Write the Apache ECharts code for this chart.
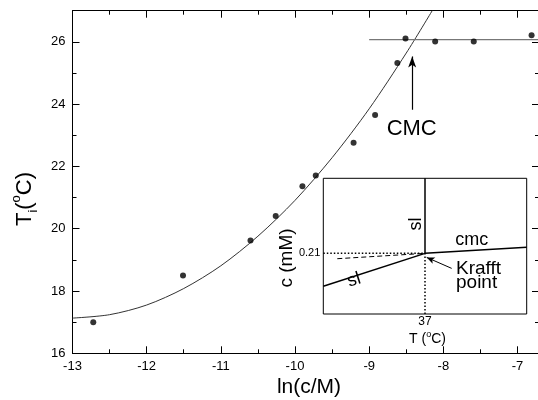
<!DOCTYPE html>
<html><head><meta charset="utf-8">
<script src="https://cdn.jsdelivr.net/npm/echarts@6/dist/echarts.min.js"></script>
<style>html,body{margin:0;padding:0;background:#fff}#c{width:538px;height:400px}</style>
</head><body><div id="c"></div>
<script>
// ---- main panel data ----
const lnC = [-12.72, -11.51, -10.60, -10.26, -9.90, -9.72, -9.21, -8.92, -8.62, -8.51, -8.11, -7.59, -6.81];
const Ti  = [17.00, 18.50, 19.62, 20.41, 21.36, 21.71, 22.76, 23.65, 25.32, 26.11, 26.01, 26.01, 26.21];
const fitX = [-13, -12.5, -12, -11.5, -11, -10.5, -10, -9.5, -9, -8.5, -8.15];
const fitY = [17.13, 17.24, 17.55, 18.08, 18.81, 19.76, 20.91, 22.28, 23.85, 25.64, 27.0];
const cmcLineX = [-9.0, -6.71];
const cmcLineY = [26.07, 26.07];
const cmcArrow = [[-8.42, 23.82], [-8.42, 25.53]];
const xTicks = [-13, -12, -11, -10, -9, -8, -7];
const xMinor = [-12.5, -11.5, -10.5, -9.5, -8.5, -7.5];
const yTicks = [16, 18, 20, 22, 24, 26];
const yMinor = [17, 19, 21, 23, 25];
// ---- inset data ----
const insetSlLow  = [[12, 0.096], [37, 0.21]];
const insetSlHigh = [[37, 0.21], [37, 0.47]];
const insetCmc    = [[37, 0.21], [62, 0.231]];
const insetDashed = [[15.44, 0.1915], [37, 0.21]];
const insetDotH   = [[12, 0.21], [37, 0.21]];
const insetDotV   = [[37, 0], [37, 0.21]];
const krafftArrow = [[43.56, 0.158], [37.42, 0.196]];
const insetXTicks = [37];
const insetYTicks = [0.21];

const FF = '"Liberation Sans", Arial, Helvetica, sans-serif';
const chart = echarts.init(document.getElementById('c'), null, {renderer: 'canvas'});

function mainX(pos, ticks, len, withLine, withLabel) {
  return {
    type: 'value', gridIndex: 0, position: pos, min: -13, max: -6.71,
    axisLine: {show: withLine, onZero: false, lineStyle: {color: '#000', width: 1}},
    axisTick: {show: true, inside: true, length: len, customValues: ticks, lineStyle: {color: '#000', width: 1}},
    axisLabel: withLabel ? {show: true, customValues: ticks, color: '#000', fontSize: 13, fontFamily: FF, margin: 7} : {show: false},
    splitLine: {show: false}
  };
}
function mainY(pos, ticks, len, withLine, withLabel) {
  return {
    type: 'value', gridIndex: 0, position: pos, min: 16, max: 27,
    axisLine: {show: withLine, onZero: false, lineStyle: {color: '#000', width: 1}},
    axisTick: {show: true, inside: true, length: len, customValues: ticks, lineStyle: {color: '#000', width: 1}},
    axisLabel: withLabel ? {show: true, customValues: ticks, color: '#000', fontSize: 13, fontFamily: FF, margin: 7} : {show: false},
    splitLine: {show: false}
  };
}

const lineStyleInset = {color: '#000', width: 1.5};

const option = {
  animation: false,
  backgroundColor: '#fff',
  grid: [
    {left: 72.5, top: 10.7, width: 466.5, height: 342.6, containLabel: false, outerBoundsMode: 'none'},
    {left: 323.3, top: 178.3, width: 203.4, height: 135.7, containLabel: false, outerBoundsMode: 'none',
     show: true, backgroundColor: '#fff', borderColor: '#000', borderWidth: 1, z: 5}
  ],
  xAxis: [
    mainX('bottom', xTicks, 7, true, true),
    mainX('bottom', xMinor, 4, false, false),
    mainX('top', xTicks, 7, true, false),
    mainX('top', xMinor, 4, false, false),
    {type: 'value', gridIndex: 1, min: 12, max: 62, position: 'bottom', z: 6,
     axisLine: {show: false, onZero: false}, axisTick: {show: false}, splitLine: {show: false},
     axisLabel: {show: true, customValues: insetXTicks, color: '#000', fontSize: 12, fontFamily: FF, margin: 2}}
  ],
  yAxis: [
    mainY('left', yTicks, 7, true, true),
    mainY('left', yMinor, 4, false, false),
    mainY('right', yTicks, 7, true, false),
    mainY('right', yMinor, 4, false, false),
    {type: 'value', gridIndex: 1, min: 0, max: 0.47, position: 'left', z: 6,
     axisLine: {show: false, onZero: false}, axisTick: {show: false}, splitLine: {show: false},
     axisLabel: {show: true, customValues: insetYTicks, color: '#000', fontSize: 11, fontFamily: FF, margin: 3,
       formatter: v => v.toFixed(2)}}
  ],
  series: [
    {type: 'line', xAxisIndex: 0, yAxisIndex: 0, data: fitX.map((x, i) => [x, fitY[i]]),
     smooth: 0.3, symbol: 'none', lineStyle: {color: '#333', width: 1}, silent: true, z: 2},
    {type: 'line', xAxisIndex: 0, yAxisIndex: 0, data: cmcLineX.map((x, i) => [x, cmcLineY[i]]),
     symbol: 'none', lineStyle: {color: '#777', width: 1.2}, silent: true, z: 2,
     markLine: {silent: true, symbol: ['none', 'arrow'], symbolSize: [6, 11], label: {show: false},
       lineStyle: {color: '#000', width: 1.2, type: 'solid'},
       data: [[{coord: cmcArrow[0]}, {coord: cmcArrow[1]}]]}},
    {type: 'scatter', xAxisIndex: 0, yAxisIndex: 0, data: lnC.map((x, i) => [x, Ti[i]]),
     symbol: 'circle', symbolSize: 6, itemStyle: {color: '#000'}, z: 3},
    // inset
    {type: 'line', xAxisIndex: 4, yAxisIndex: 4, data: insetSlLow, symbol: 'none', lineStyle: lineStyleInset, z: 7},
    {type: 'line', xAxisIndex: 4, yAxisIndex: 4, data: insetSlHigh, symbol: 'none', lineStyle: lineStyleInset, z: 7},
    {type: 'line', xAxisIndex: 4, yAxisIndex: 4, data: insetCmc, symbol: 'none', lineStyle: lineStyleInset, z: 7},
    {type: 'line', xAxisIndex: 4, yAxisIndex: 4, data: insetDashed, symbol: 'none',
     lineStyle: {color: '#000', width: 1, type: [5, 3]}, z: 7},
    {type: 'line', xAxisIndex: 4, yAxisIndex: 4, data: insetDotH, symbol: 'none',
     lineStyle: {color: '#000', width: 1.5, type: [1.5, 2]}, z: 7},
    {type: 'line', xAxisIndex: 4, yAxisIndex: 4, data: insetDotV, symbol: 'none',
     lineStyle: {color: '#000', width: 1.5, type: [1.5, 2]}, z: 7,
     markLine: {silent: true, symbol: ['none', 'arrow'], symbolSize: [5, 8], label: {show: false},
       lineStyle: {color: '#000', width: 1, type: 'solid'},
       data: [[{coord: krafftArrow[0]}, {coord: krafftArrow[1]}]]}}
  ],
  graphic: {elements: [
    {type: 'text', x: 309, y: 387, z: 10,
     style: {text: 'ln(c/M)', fill: '#000', fontSize: 21, fontFamily: FF, align: 'center', verticalAlign: 'middle', textAlign: 'center', textVerticalAlign: 'middle'}},
    {type: 'text', x: 25, y: 199, rotation: Math.PI / 2, z: 10,
     style: {text: '{n|T}{sub|i}{n|(}{sup|o}{n|C)}', fill: '#000', align: 'center', verticalAlign: 'middle', textAlign: 'center', textVerticalAlign: 'middle',
       rich: {n: {fontSize: 22, fontFamily: FF, lineHeight: 30},
              sub: {fontSize: 13, fontFamily: FF, verticalAlign: 'bottom', lineHeight: 14},
              sup: {fontSize: 13, fontFamily: FF, verticalAlign: 'top', lineHeight: 14}}}},
    {type: 'text', x: 411.7, y: 129, z: 10,
     style: {text: 'CMC', fill: '#000', fontSize: 22, fontFamily: FF, align: 'center', verticalAlign: 'middle', textAlign: 'center', textVerticalAlign: 'middle'}},
    {type: 'text', x: 287, y: 258, rotation: Math.PI / 2, z: 10,
     style: {text: 'c (mM)', fill: '#000', fontSize: 19, fontFamily: FF, align: 'center', verticalAlign: 'middle', textAlign: 'center', textVerticalAlign: 'middle'}},
    {type: 'text', x: 416, y: 224, rotation: Math.PI / 2, z: 10,
     style: {text: 'sl', fill: '#000', fontSize: 18, fontFamily: FF, align: 'center', verticalAlign: 'middle', textAlign: 'center', textVerticalAlign: 'middle'}},
    {type: 'text', x: 354, y: 280, rotation: 0.31, z: 10,
     style: {text: 'sl', fill: '#000', fontSize: 18, fontFamily: FF, align: 'center', verticalAlign: 'middle', textAlign: 'center', textVerticalAlign: 'middle'}},
    {type: 'text', x: 471.7, y: 240, z: 10,
     style: {text: 'cmc', fill: '#000', fontSize: 18, fontFamily: FF, align: 'center', verticalAlign: 'middle', textAlign: 'center', textVerticalAlign: 'middle'}},
    {type: 'text', x: 456, y: 269, z: 10,
     style: {text: 'Krafft', fill: '#000', fontSize: 19, fontFamily: FF, align: 'left', verticalAlign: 'middle', textAlign: 'left', textVerticalAlign: 'middle'}},
    {type: 'text', x: 456, y: 283, z: 10,
     style: {text: 'point', fill: '#000', fontSize: 19, fontFamily: FF, align: 'left', verticalAlign: 'middle', textAlign: 'left', textVerticalAlign: 'middle'}},
    {type: 'text', x: 427.5, y: 339, z: 10,
     style: {text: '{n|T (}{sup|o}{n|C)}', fill: '#000', align: 'center', verticalAlign: 'middle', textAlign: 'center', textVerticalAlign: 'middle',
       rich: {n: {fontSize: 14, fontFamily: FF, lineHeight: 18},
              sup: {fontSize: 9, fontFamily: FF, verticalAlign: 'top', lineHeight: 10}}}}
  ]}
};
chart.setOption(option);
</script></body></html>
